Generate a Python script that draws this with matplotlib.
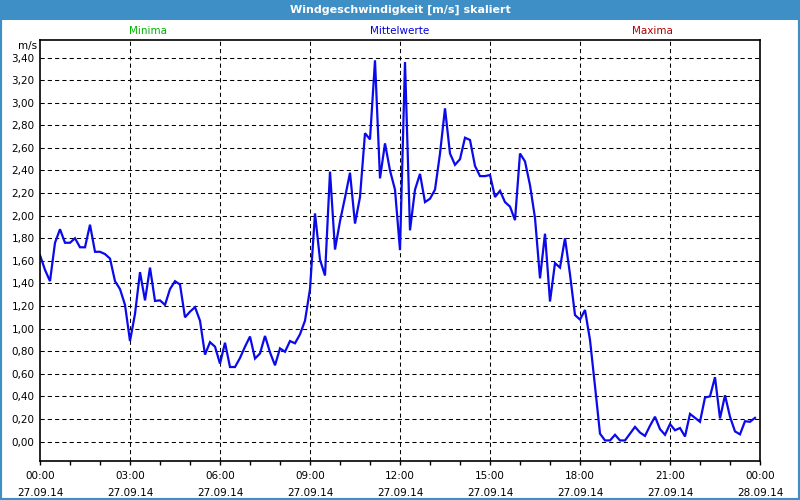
import matplotlib
matplotlib.use("Agg")
import matplotlib.pyplot as plt
from matplotlib.patches import Rectangle
from matplotlib.ticker import FixedLocator, FuncFormatter

title = "Windgeschwindigkeit [m/s] skaliert"
unit_label = "m/s"
legend_labels = ["Minima", "Mittelwerte", "Maxima"]
legend_colors = ["#00b400", "#0000e0", "#b00000"]

# 10-minute mean wind speed values from 00:00 to 23:50
wind_mean = [
    1.65, 1.52, 1.42, 1.76, 1.88, 1.76, 1.76, 1.80, 1.72, 1.72,
    1.92, 1.68, 1.68, 1.66, 1.62, 1.42, 1.35, 1.21, 0.89, 1.13,
    1.50, 1.25, 1.54, 1.245, 1.25, 1.21, 1.35, 1.42, 1.39, 1.10,
    1.15, 1.19, 1.07, 0.77, 0.88, 0.84, 0.69, 0.875, 0.66, 0.66,
    0.74, 0.84, 0.93, 0.735, 0.78, 0.935, 0.79, 0.675, 0.825, 0.795,
    0.89, 0.87, 0.95, 1.07, 1.35, 2.02, 1.61, 1.47, 2.39, 1.70,
    1.95, 2.16, 2.38, 1.93, 2.165, 2.73, 2.675, 3.375, 2.33, 2.64,
    2.40, 2.23, 1.695, 3.36, 1.87, 2.23, 2.37, 2.12, 2.15, 2.23,
    2.55, 2.95, 2.55, 2.45, 2.50, 2.69, 2.67, 2.44, 2.35, 2.35,
    2.36, 2.165, 2.22, 2.12, 2.08, 1.96, 2.55, 2.48, 2.27, 1.98,
    1.445, 1.84, 1.24, 1.58, 1.54, 1.80, 1.48, 1.12, 1.08, 1.165,
    0.90, 0.49, 0.07, 0.01, 0.01, 0.06, 0.01, 0.01, 0.07, 0.13,
    0.08, 0.05, 0.14, 0.22, 0.11, 0.06, 0.155, 0.10, 0.12, 0.045,
    0.245, 0.21, 0.175, 0.39, 0.40, 0.57, 0.205, 0.41, 0.22, 0.09,
    0.064, 0.18, 0.175, 0.21,
]
time_hours = [i / 6 for i in range(len(wind_mean))]

x_tick_hours = [0, 3, 6, 9, 12, 15, 18, 21, 24]
x_tick_labels = ["00:00\n27.09.14", "03:00\n27.09.14", "06:00\n27.09.14",
                 "09:00\n27.09.14", "12:00\n27.09.14", "15:00\n27.09.14",
                 "18:00\n27.09.14", "21:00\n27.09.14", "00:00\n28.09.14"]
y_ticks = [round(0.2 * k, 2) for k in range(18)]

frame_blue = "#3d8fc6"
line_blue = "#0a0aeb"

fig = plt.figure(figsize=(8, 5), dpi=100, facecolor="white")

# title bar and outer border
fig.patches.append(Rectangle((0, 1 - 20 / 500), 1, 20 / 500, transform=fig.transFigure,
                             facecolor=frame_blue, edgecolor="none", zorder=0))
fig.patches.append(Rectangle((0, 0), 1, 1, transform=fig.transFigure,
                             facecolor="none", edgecolor=frame_blue, lw=3, zorder=0))
fig.text(0.5, 1 - 10 / 500, title, color="white", fontsize=8, fontweight="bold",
         ha="center", va="center")

legend_x = [148, 400, 652]
for lx, lab, col in zip(legend_x, legend_labels, legend_colors):
    fig.text(lx / 800, 1 - 31 / 500, lab, color=col, fontsize=7.5, ha="center", va="center")

ax = fig.add_axes([40 / 800, 39 / 500, 720 / 800, 421 / 500])
ax.set_facecolor("white")
ax.plot(time_hours, wind_mean, color=line_blue, lw=1.6, solid_joinstyle="miter")

ax.set_xlim(0, 24)
ax.set_ylim(-0.172, 3.555)

ax.set_yticks(y_ticks)
ax.yaxis.set_major_formatter(FuncFormatter(lambda v, p: f"{v:.2f}".replace(".", ",")))
ax.tick_params(axis="y", length=0, pad=4, labelsize=7.5, colors="black")

ax.set_xticks(x_tick_hours)
ax.set_xticklabels(x_tick_labels)
ax.xaxis.set_minor_locator(FixedLocator(list(range(25))))
ax.tick_params(axis="x", which="both", direction="out", length=3, width=1, pad=4,
               labelsize=7.5, colors="black")
for lab in ax.get_xticklabels():
    lab.set_linespacing(1.9)

for v in y_ticks:
    ax.axhline(v, color="black", lw=0.75, ls=(0, (4, 3)), zorder=1)
for h in x_tick_hours[1:-1]:
    ax.axvline(h, color="black", lw=0.75, ls=(0, (4, 3)), zorder=1)

for s in ax.spines.values():
    s.set_color("black")
    s.set_linewidth(1.2)

ax.text(-0.3 / 24 * 0 - 0.004, 1 - 6 / 421, unit_label, transform=ax.transAxes,
        ha="right", va="center", fontsize=7.5)

fig.savefig("out.png", dpi=100, facecolor="white")
